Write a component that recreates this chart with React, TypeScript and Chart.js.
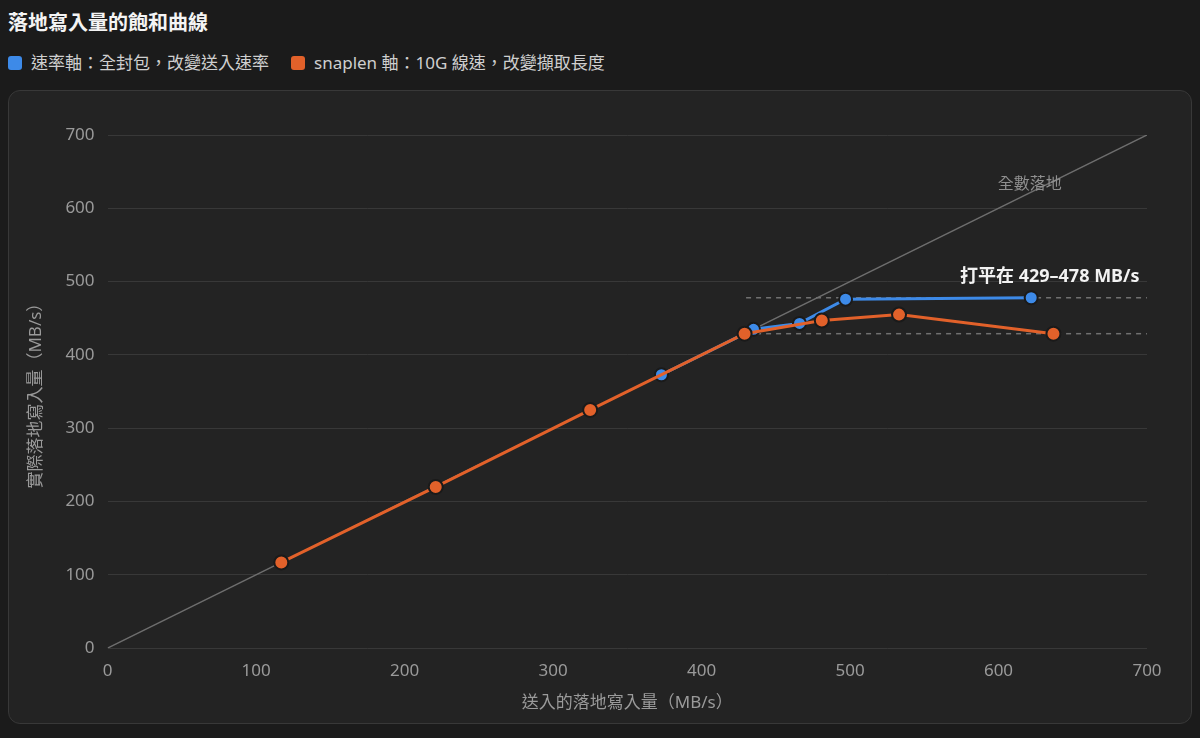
import { useEffect, useRef } from "react";
import { Chart, registerables } from "chart.js";

Chart.register(...registerables);

const RATE_X = [373, 435, 466, 497, 622];
const RATE_Y = [373, 435, 443, 476, 478];

const SNAP_X = [117, 221, 325, 429, 481, 533, 637];
const SNAP_Y = [117, 220, 325, 429, 447, 455, 429];

const IDEAL_X = [0, 700];
const IDEAL_Y = [0, 700];

const PLATEAU_X = [430, 700];
const PLATEAU_HI = [478, 478];
const PLATEAU_LO = [429, 429];

const TICKS = [0, 100, 200, 300, 400, 500, 600, 700];

const BLUE = "#3d8ae8";
const ORANGE = "#e2612a";
const FONT = "'Noto Sans', 'Noto Sans CJK TC', sans-serif";

const pts = (xs: number[], ys: number[]) => xs.map((x, i) => ({ x, y: ys[i] }));

// text notes placed through the scales
const notes = {
  id: "notes",
  afterDatasetsDraw(chart: Chart) {
    const { ctx, scales } = chart;
    const x = scales.x;
    const y = scales.y;
    ctx.save();
    ctx.font = `16px ${FONT}`;
    ctx.fillStyle = "#8f8f8f";
    ctx.textAlign = "center";
    ctx.textBaseline = "middle";
    ctx.fillText("全數落地", x.getPixelForValue(621), y.getPixelForValue(633));
    ctx.font = `bold 18px ${FONT}`;
    ctx.fillStyle = "#f2f2f2";
    ctx.textAlign = "right";
    ctx.fillText("打平在 429–478 MB/s", x.getPixelForValue(695), y.getPixelForValue(506));
    ctx.restore();
  },
};

export default function App() {
  const canvasRef = useRef<HTMLCanvasElement>(null);

  useEffect(() => {
    if (!canvasRef.current) return;
    const chart = new Chart(canvasRef.current, {
      type: "scatter",
      data: {
        datasets: [
          {
            data: pts(IDEAL_X, IDEAL_Y),
            showLine: true,
            borderColor: "#6e6e6e",
            borderWidth: 1.5,
            pointRadius: 0,
            order: 4,
          },
          {
            data: pts(PLATEAU_X, PLATEAU_HI),
            showLine: true,
            borderColor: "#707070",
            borderWidth: 1.5,
            borderDash: [5, 5],
            pointRadius: 0,
            order: 3,
          },
          {
            data: pts(PLATEAU_X, PLATEAU_LO),
            showLine: true,
            borderColor: "#707070",
            borderWidth: 1.5,
            borderDash: [5, 5],
            pointRadius: 0,
            order: 3,
          },
          {
            data: pts(RATE_X, RATE_Y),
            showLine: true,
            borderColor: BLUE,
            borderWidth: 3,
            backgroundColor: BLUE,
            pointRadius: 6.5,
            pointBorderColor: "#1a1a1a",
            pointBorderWidth: 2,
            order: 1,
          },
          {
            data: pts(SNAP_X, SNAP_Y),
            showLine: true,
            borderColor: ORANGE,
            borderWidth: 3,
            backgroundColor: ORANGE,
            pointRadius: 7,
            pointBorderColor: "#1a1a1a",
            pointBorderWidth: 2,
            order: 0,
          },
        ],
      },
      options: {
        animation: false,
        responsive: true,
        maintainAspectRatio: false,
        layout: { padding: { top: 44, right: 44, bottom: 6, left: 9 } },
        plugins: {
          legend: { display: false },
          tooltip: { enabled: false },
        },
        scales: {
          x: {
            type: "linear",
            min: 0,
            max: 700,
            afterBuildTicks: (s: any) => {
              s.ticks = TICKS.map((v) => ({ value: v }));
            },
            grid: { display: false },
            border: { display: false },
            ticks: { color: "#9a9a9a", font: { family: FONT, size: 17 }, padding: 5 },
            title: {
              display: true,
              text: "送入的落地寫入量（MB/s）",
              color: "#9a9a9a",
              font: { family: FONT, size: 17 },
              padding: { top: 6 },
            },
          },
          y: {
            type: "linear",
            min: 0,
            max: 700,
            afterBuildTicks: (s: any) => {
              s.ticks = TICKS.map((v) => ({ value: v }));
            },
            grid: { color: "#383838", drawTicks: false, lineWidth: 1 },
            border: { display: false },
            ticks: { color: "#9a9a9a", font: { family: FONT, size: 17 }, padding: 13 },
            title: {
              display: true,
              text: "實際落地寫入量（MB/s）",
              color: "#9a9a9a",
              font: { family: FONT, size: 17 },
              padding: { bottom: 6 },
            },
          },
        },
      },
      plugins: [notes],
    });
    return () => chart.destroy();
  }, []);

  return (
    <div style={{ fontFamily: FONT, color: "#e8e8e8" }}>
      <style>{"body{background:#1b1b1b;}"}</style>
      <div style={{ fontSize: 20, fontWeight: 700, lineHeight: "30px", color: "#f4f4f4" }}>
        落地寫入量的飽和曲線
      </div>
      <div style={{ display: "flex", gap: 22, marginTop: 14, fontSize: 17, color: "#cfcfcf", lineHeight: "22px" }}>
        {[
          { label: "速率軸：全封包，改變送入速率", color: BLUE },
          { label: "snaplen 軸：10G 線速，改變擷取長度", color: ORANGE },
        ].map((it) => (
          <div key={it.label} style={{ display: "flex", alignItems: "center", gap: 9 }}>
            <span style={{ width: 14, height: 14, borderRadius: 3, background: it.color, display: "inline-block" }} />
            <span>{it.label}</span>
          </div>
        ))}
      </div>
      <div
        style={{
          marginTop: 16,
          height: 634,
          boxSizing: "border-box",
          border: "1px solid #383838",
          borderRadius: 12,
          background: "#232323",
          padding: "0 0 0 4px",
        }}
      >
        <div style={{ position: "relative", width: "100%", height: "100%" }}>
          <canvas ref={canvasRef} />
        </div>
      </div>
    </div>
  );
}
